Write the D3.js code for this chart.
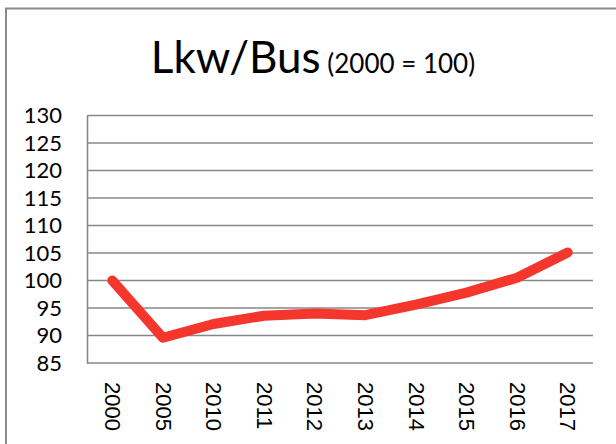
<!DOCTYPE html>
<html>
<head>
<meta charset="utf-8">
<script src="https://cdn.jsdelivr.net/npm/d3@7"></script>
<style>
  html, body { margin: 0; padding: 0; background: #fff; }
  svg { display: block; }
</style>
</head>
<body>
<div id="chart"></div>
<script>
// data
const years = ["2000", "2005", "2010", "2011", "2012", "2013", "2014", "2015", "2016", "2017"];
const lkwBus = [100, 89.6, 92.1, 93.6, 94, 93.7, 95.6, 97.8, 100.5, 105.1];
const yTicks = [85, 90, 95, 100, 105, 110, 115, 120, 125, 130];

const W = 616, H = 444;
const plot = { left: 87, right: 593, top: 115.5, bottom: 363 };

const svg = d3.select("#chart")
    .append("svg")
    .attr("width", W)
    .attr("height", H);

// outer chart frame (only top and left visible)
svg.append("path")
    .attr("d", "M6," + H + "V8.5H" + W)
    .attr("fill", "none")
    .attr("stroke", "#8a8a8a")
    .attr("stroke-width", 2);

// title
let title = svg.append("text")
    .attr("x", 313)
    .attr("y", 73)
    .attr("text-anchor", "middle")
    .style("font-family", "Lato, 'Open Sans', sans-serif")
    .style("fill", "#000");
title.append("tspan")
    .style("font-size", "44px")
    .text("Lkw/Bus");
title.append("tspan")
    .style("font-size", "26px")
    .text(" (2000 = 100)");

// scales
let x = d3.scalePoint()
    .domain(years)
    .range([plot.left, plot.right])
    .padding(0.5);

let y = d3.scaleLinear()
    .domain([85, 130])
    .range([plot.bottom, plot.top]);

// horizontal gridlines
svg.append("g")
    .selectAll("line")
    .data(yTicks)
    .enter()
    .append("line")
    .attr("x1", plot.left)
    .attr("x2", plot.right)
    .attr("y1", d => y(d))
    .attr("y2", d => y(d))
    .attr("stroke", "#878787")
    .attr("stroke-width", 1.6);

// Y axis
let yAxis = svg.append("g")
    .attr("transform", "translate(" + plot.left + ",0)")
    .call(d3.axisLeft(y).tickValues(yTicks).tickSize(0).tickPadding(25));
yAxis.select(".domain")
    .attr("stroke", "#878787")
    .attr("stroke-width", 1.6);
yAxis.selectAll("text")
    .style("font-family", "Lato, 'Open Sans', sans-serif")
    .style("font-size", "22px")
    .style("fill", "#000");

// X axis labels, rotated
let xAxis = svg.append("g")
    .attr("transform", "translate(0," + plot.bottom + ")")
    .call(d3.axisBottom(x).tickSize(0));
xAxis.select(".domain").remove();
xAxis.selectAll("text")
    .attr("transform", "translate(0,19) rotate(90)")
    .attr("x", 0)
    .attr("y", 0)
    .attr("dy", "0.35em")
    .attr("text-anchor", "start")
    .style("font-family", "'Liberation Sans', Arial, sans-serif")
    .style("font-size", "22px")
    .style("fill", "#000");

// the line
let line = d3.line()
    .x((d, i) => x(years[i]))
    .y(d => y(d));

svg.append("path")
    .datum(lkwBus)
    .attr("d", line)
    .attr("fill", "none")
    .attr("stroke", "#f4362c")
    .attr("stroke-width", 10)
    .attr("stroke-linejoin", "round")
    .attr("stroke-linecap", "round");
</script>
</body>
</html>
